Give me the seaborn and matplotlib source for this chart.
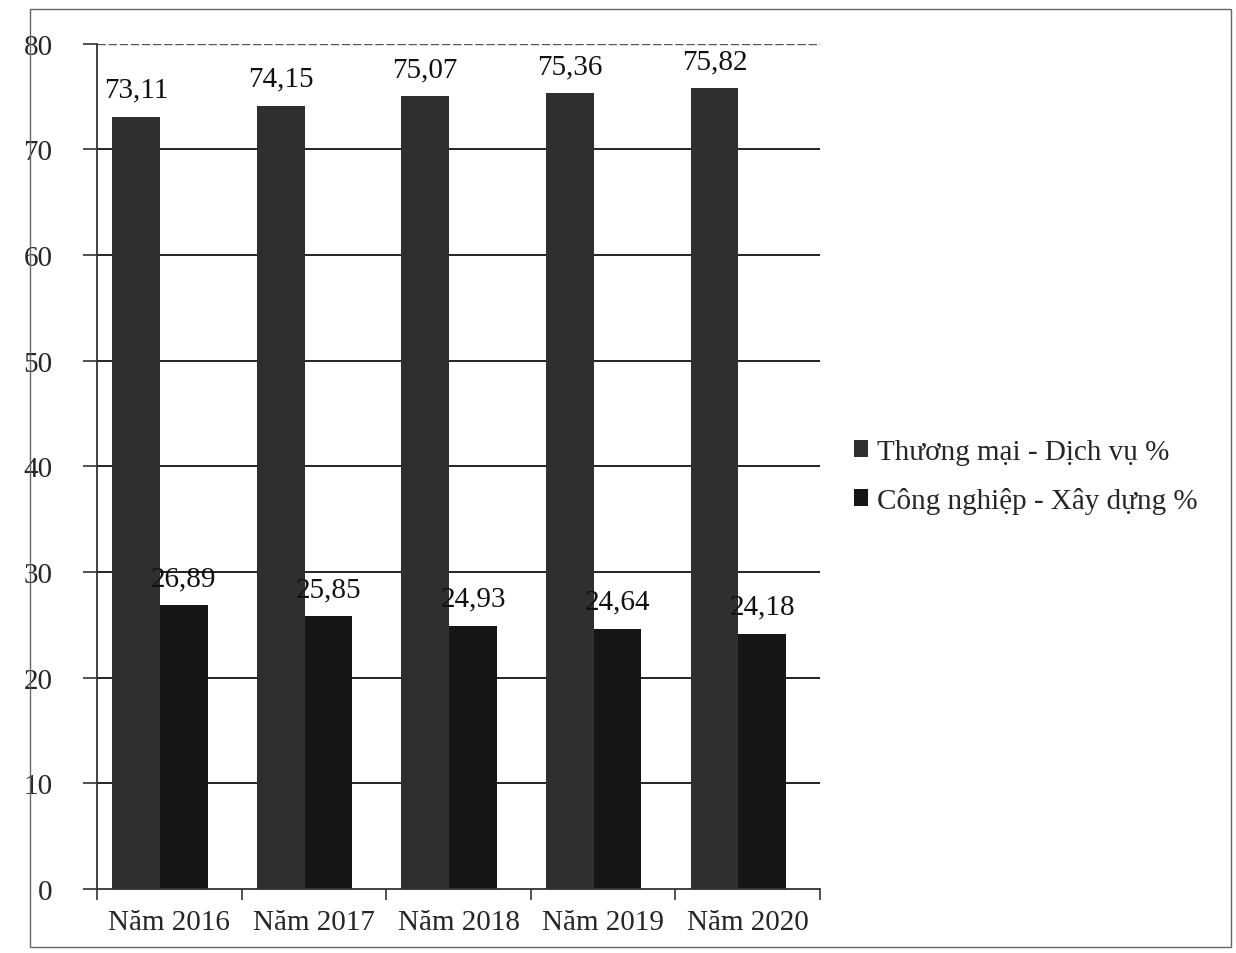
"""Cơ cấu kinh tế 2016-2020: bar chart recreated with seaborn."""
import numpy as np
import pandas as pd
import matplotlib
matplotlib.use("Agg")
import matplotlib.pyplot as plt
import seaborn as sns
from matplotlib.patches import Rectangle

years = ["Năm 2016", "Năm 2017", "Năm 2018", "Năm 2019", "Năm 2020"]
series = ["Thương mại - Dịch vụ %", "Công nghiệp - Xây dựng %"]
thuong_mai = [73.11, 74.15, 75.07, 75.36, 75.82]
cong_nghiep = [26.89, 25.85, 24.93, 24.64, 24.18]
yticks = [0, 10, 20, 30, 40, 50, 60, 70, 80]

df = pd.DataFrame({
    "year": years * 2,
    "series": [series[0]] * len(years) + [series[1]] * len(years),
    "value": thuong_mai + cong_nghiep,
})

sns.set_style("white")
plt.rcParams['font.family'] = ['Liberation Serif', 'DejaVu Serif']
plt.rcParams['font.size'] = 21

fig = plt.figure(figsize=(12.36, 9.54), dpi=100)
ax = fig.add_axes([0.0785, 0.067, 0.585, 0.886])

sns.barplot(data=df, x="year", y="value", hue="series", order=years, hue_order=series,
            palette=["#2f2f2f", "#161616"], width=0.66, saturation=1, ax=ax,
            edgecolor="none", legend=True)

# bars in the original sit a little left of the category centre
for p in ax.patches:
    if p.get_height() > 0:
        p.set_x(p.get_x() - 0.065)

ax.set_ylim(0, 80)
ax.set_xlim(-0.5, len(years) - 0.5)
ax.set_yticks(yticks)
ax.set_yticklabels([str(v) for v in yticks], fontsize=21)
ax.set_xlabel(""); ax.set_ylabel("")
ax.tick_params(axis="x", which="major", bottom=False, length=0, labelsize=21, pad=14)
ax.tick_params(axis="y", left=True, length=10, width=1.2, color="#333", direction="out", pad=22)
ax.set_xticks(np.arange(-0.5, len(years)), minor=True)
ax.tick_params(axis="x", which="minor", bottom=True, length=8, width=1.2, color="#333",
               direction="out")

for v in yticks[1:]:
    ax.axhline(v, color="#555" if v == 80 else "#222", lw=1.0 if v == 80 else 1.4,
               ls=(0, (6, 2)) if v == 80 else "-", zorder=0.5)

for s in ["top", "right"]:
    ax.spines[s].set_visible(False)
for s in ["left", "bottom"]:
    ax.spines[s].set_color("#333")
    ax.spines[s].set_linewidth(1.3)

for cont in ax.containers:
    ax.bar_label(cont, labels=[f"{v:.2f}".replace(".", ",") for v in cont.datavalues],
                 padding=10, fontsize=21, color="#111")

leg = ax.legend(loc="center left", bbox_to_anchor=(1.01, 0.488), frameon=False,
                fontsize=21, handlelength=0.5, handleheight=0.5, handletextpad=0.3,
                labelspacing=0.75)

fig.patches.append(Rectangle((0.024, 0.006), 0.972, 0.983, transform=fig.transFigure,
                             fill=False, edgecolor="#666", lw=1.0))

fig.savefig("out.png", dpi=100)
print("Saved: out.png")
